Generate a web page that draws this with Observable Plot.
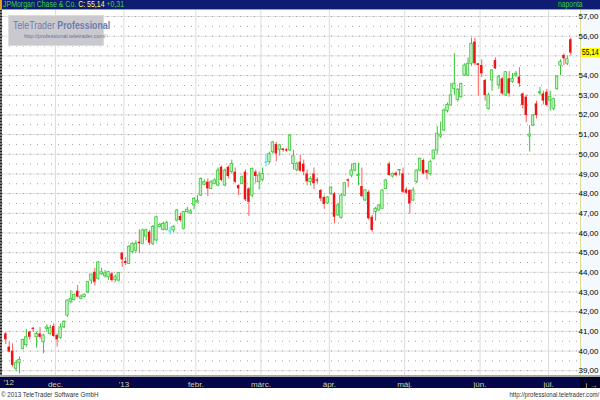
<!DOCTYPE html>
<html><head><meta charset="utf-8">
<script src="https://cdn.jsdelivr.net/npm/d3@7"></script>
<script src="https://cdn.jsdelivr.net/npm/@observablehq/plot@0.6"></script>
<style>
body{margin:0;background:#fff;}
#wrap{position:relative;width:600px;height:400px;overflow:hidden;font-family:"Liberation Sans",Arial,sans-serif;}
#topbar{position:absolute;left:0;top:0;width:598px;height:9px;background:#0e1c72;border-left:2px solid #e0a020;border-bottom:1px solid #a0a0a8;}
#topbar .s{position:absolute;top:0;font-size:8.5px;line-height:9px;white-space:nowrap;display:inline-block;transform-origin:left center;}
#rpanel{position:absolute;left:580px;top:10px;width:20px;height:365px;background:#f3f9fc;border-left:1px solid #e2dc9a;}
#leftedge{position:absolute;left:0;top:10px;width:2px;height:365px;background:repeating-linear-gradient(to bottom,#222 0 1px,#777 1px 3px);}
#botline{position:absolute;left:0;top:375px;width:600px;height:2px;background:#a8a8a8;}
#botbar{position:absolute;left:0;top:377px;width:600px;height:11px;background:#06064a;}
#botbar2{position:absolute;left:580px;top:377px;width:20px;height:11px;background:#000028;}
#chart{position:absolute;left:0;top:10px;}
#logo{position:absolute;left:8px;top:15px;width:94px;height:29px;background:#c9c9ce;border:1px solid #dcdce0;}
#logo .t1{position:absolute;left:4px;top:3px;font-size:10.5px;color:#6c7cae;white-space:nowrap;transform:scaleX(0.84);transform-origin:left center;}
#logo .t1 b{font-weight:bold;}
#logo .t2{position:absolute;left:15px;top:17px;font-size:6px;color:#6474a4;white-space:nowrap;transform:scaleX(0.92);transform-origin:left center;}
.cap{position:absolute;top:390px;font-size:8px;line-height:9px;color:#333;white-space:nowrap;}
#lastlbl{position:absolute;left:581px;width:19px;height:9px;background:#ffff00;overflow:hidden;}
#lastlbl span{position:absolute;left:1px;top:0;font-size:8.5px;line-height:9px;color:#000;white-space:nowrap;transform:scaleX(0.78);transform-origin:left center;}
</style>
</head><body>
<div id="wrap">
  <div id="rpanel"></div>
  <div id="botline"></div>
  <div id="botbar"></div>
  <div id="botbar2"></div>
  <div id="chart"></div>
  <div id="leftedge"></div>
  <div id="topbar">
    <span class="s" style="left:1px;transform:scaleX(0.82);"><span style="color:#3cd23c;">JPMorgan Chase &amp; Co.</span> <span style="color:#ffff40;">C: 55,14</span> <span style="color:#3cd23c;">+0,31</span></span>
    <span class="s" style="left:556px;color:#3cd23c;transform:scaleX(0.8);">naponta</span>
  </div>
  <div id="logo"><div class="t1">TeleTrader <b>Professional</b></div><div class="t2">http://professional.teletrader.com/</div></div>
  <div class="cap" style="left:1px;transform:scaleX(0.78);transform-origin:left center;">© 2013 TeleTrader Software GmbH</div>
  <div class="cap" style="right:1px;transform:scaleX(0.76);transform-origin:right center;">http://professional.teletrader.com/</div>
</div>
<script>
// Daily OHLC, JPMorgan Chase & Co., 9 Nov 2012 – 10 Jul 2013
const open = [
40.87,40.20,39.99,39.10,39.40,40.10,40.30,40.96,41.16,40.70,40.87,40.45,41.13,40.87,41.25,
40.79,40.67,41.20,41.80,42.50,42.60,43.04,42.66,42.75,42.99,43.58,44.00,43.67,43.90,43.80,43.75,43.92,43.60,43.58,44.97,
44.55,44.43,45.03,45.10,45.53,45.45,45.82,46.04,45.45,45.62,46.30,46.16,46.16,46.10,46.13,46.63,46.84,46.21,47.06,46.99,47.40,
47.55,47.90,48.45,48.58,48.24,48.50,48.41,49.34,48.41,49.34,49.09,49.09,48.41,48.50,49.09,48.24,47.90,49.09,48.58,
48.70,49.60,49.60,50.10,50.50,50.23,50.27,50.23,50.19,49.50,49.20,49.60,49.50,49.00,48.58,49.00,48.70,48.16,47.80,47.50,
48.00,47.99,46.89,46.77,47.90,48.70,48.92,49.17,48.90,48.36,47.65,48.07,46.80,47.06,47.14,47.23,48.24,49.50,48.87,49.04,49.17,49.00,
48.19,48.16,47.65,48.58,49.17,49.68,49.17,49.00,49.77,50.19,50.90,51.21,52.20,52.48,53.32,52.76,52.90,54.00,54.00,54.60,55.70,54.60,
54.51,53.75,52.30,53.75,54.76,53.50,53.83,52.99,53.83,53.67,54.00,53.92,53.07,52.90,50.90,51.46,52.56,53.10,53.07,53.15,
52.73,52.30,53.32,54.50,55.02,54.60,55.82];
const high = [
40.96,40.45,40.37,39.50,39.70,40.60,41.10,41.00,41.20,40.95,41.20,40.85,41.33,41.30,41.38,
40.87,41.38,41.55,42.60,43.07,42.90,43.33,42.85,42.90,43.55,43.90,44.20,44.55,44.20,44.10,44.05,44.00,43.85,44.00,45.00,
44.75,45.36,45.50,45.60,46.16,46.20,46.20,46.13,46.38,46.85,46.50,46.55,46.60,46.30,46.37,47.20,47.00,47.10,47.30,47.20,47.80,
47.90,48.80,48.70,48.75,48.65,48.75,49.30,49.40,49.25,49.40,49.70,49.30,48.45,48.90,49.20,48.30,49.30,49.20,49.10,
49.30,50.00,50.10,50.65,50.60,50.50,50.30,50.30,51.00,50.20,49.60,49.95,49.70,49.20,48.85,49.30,48.80,48.20,47.90,47.85,
48.35,48.05,47.50,48.00,48.55,48.75,49.50,49.55,49.55,49.30,48.20,48.15,46.90,47.30,47.45,48.20,48.70,49.60,49.05,49.10,49.20,49.30,
48.30,48.20,48.30,49.20,49.80,49.75,49.20,49.70,50.20,51.40,51.63,52.30,52.60,53.60,55.10,53.35,53.60,54.60,54.90,55.90,55.90,54.60,
54.80,53.80,53.10,54.30,54.90,54.00,53.90,54.20,54.20,54.10,54.20,54.40,53.10,53.00,51.46,52.00,52.70,53.40,53.20,53.30,
53.20,52.85,54.00,54.80,55.10,55.00,55.90];
const low = [
40.33,39.90,39.18,38.98,38.84,40.05,40.20,40.55,40.96,40.15,40.60,39.86,40.96,40.80,40.70,
40.20,40.60,41.15,41.72,42.40,42.55,42.70,42.60,42.70,42.90,43.40,43.30,43.60,43.85,43.70,43.60,43.50,43.50,43.50,44.26,
44.35,44.40,44.95,45.00,44.95,45.40,45.60,45.36,45.36,45.55,46.25,46.10,46.10,45.90,46.00,46.55,46.55,46.15,47.00,46.95,47.18,
47.50,47.85,48.40,47.85,48.20,48.45,48.35,48.60,48.35,48.75,49.00,48.50,47.90,48.45,47.60,46.84,47.80,48.50,48.20,
48.60,49.35,49.50,50.00,49.60,49.90,50.10,50.10,50.15,49.20,49.10,49.10,48.90,48.40,48.40,48.20,48.50,47.60,47.20,47.45,
47.90,46.46,46.85,46.70,47.85,48.30,48.80,49.10,48.40,47.80,47.60,46.65,46.04,46.60,47.10,47.20,48.20,48.90,48.80,48.85,48.90,48.00,
47.95,46.97,47.60,48.50,49.10,48.95,48.70,48.90,49.70,50.00,50.80,51.15,52.10,52.45,53.00,52.65,52.85,53.95,53.95,54.50,54.50,52.97,
53.90,52.70,52.25,53.20,54.30,53.30,53.00,52.95,52.90,53.60,53.90,53.40,52.30,51.60,50.11,51.40,51.80,53.00,52.50,52.40,
52.20,52.20,53.25,54.00,54.50,54.50,55.00];
const close = [
40.57,39.95,39.27,39.38,39.55,40.57,40.70,40.70,41.10,40.87,40.70,40.79,41.20,41.16,40.74,
40.57,41.20,41.47,42.57,42.65,42.85,42.74,42.77,42.86,43.50,43.89,43.50,44.50,44.00,43.95,44.01,43.58,43.75,43.96,44.63,
44.45,45.30,45.45,45.45,45.45,46.13,46.13,45.48,46.30,46.80,46.40,46.46,46.50,46.10,46.30,47.14,46.63,47.06,47.18,47.10,47.73,
47.64,48.75,48.58,48.24,48.58,48.67,49.17,48.67,49.17,48.87,49.51,48.58,48.24,48.83,47.68,47.56,49.26,48.87,48.92,
49.00,49.60,50.02,50.60,50.02,50.45,50.19,50.16,50.95,49.90,49.50,49.14,49.10,48.60,48.75,48.50,48.63,47.73,47.45,47.80,
48.30,46.80,47.40,47.90,48.53,48.63,49.17,49.50,48.95,47.85,48.16,46.72,46.13,47.23,47.40,48.16,48.67,48.92,49.00,48.92,49.20,48.07,
48.02,47.48,48.16,49.17,49.77,49.00,49.04,49.60,50.19,51.04,51.00,52.22,52.50,52.99,53.58,53.28,53.58,54.51,54.60,55.61,54.60,54.51,
54.09,52.99,52.99,54.26,54.34,53.92,53.07,54.17,53.07,53.83,54.09,53.58,52.48,51.97,51.00,51.97,51.97,53.15,52.70,52.48,
52.90,52.80,53.92,54.68,54.85,54.83,55.14];

// first trading day of each month (index) and its label
const monthStart = [15, 35, 56, 75, 95, 117, 139, 159];
const monthLabel = ["dec.", "'13", "febr.", "márc.", "ápr.", "máj.", "jún.", "júl."];
const yearStartLabel = ["'12"];
const yTicks = d3.range(39, 58);
const lastClose = close[close.length - 1];

const candles = open.map((o, i) => ({i, o, h: high[i], l: low[i], c: close[i]}));
const up = candles.filter(d => d.c > d.o);
const down = candles.filter(d => d.c < d.o);
const flat = candles.filter(d => d.c === d.o);
const tickPos = monthStart.map(m => m - 0.5);
const labelOf = new Map(tickPos.map((p, k) => [p, monthLabel[k]]));
const half = 0.36;
const khaki = "#d2d2a0";
// the price label sitting under the last-close marker is hidden, as in the reference
const yLabelTicks = yTicks.filter(t => Math.abs(t - lastClose) > 0.5);

const chart = Plot.plot({
  width: 600,
  height: 380,
  marginLeft: 2,
  marginRight: 20,
  marginTop: 0,
  marginBottom: 15,
  style: {background: "transparent", overflow: "visible", fontFamily: '"Liberation Sans",Arial,sans-serif'},
  x: {domain: [-0.96, 167.84], axis: null},
  y: {domain: [38.758, 57.305], axis: null},
  marks: [
    Plot.ruleY(yTicks, {stroke: "#e6dfe0", strokeWidth: 1}),
    Plot.ruleY(d3.range(39, 57.5, 0.5), {stroke: "#a0a0a0", strokeWidth: 1, strokeDasharray: "1,6"}),
    Plot.ruleX(tickPos, {stroke: "#dcdcdc", strokeWidth: 1}),
    Plot.ruleX(up, {x: "i", y1: "l", y2: "h", stroke: "#33c433", strokeWidth: 1}),
    Plot.ruleX(down, {x: "i", y1: "l", y2: "h", stroke: "#ff5a5a", strokeWidth: 1}),
    Plot.ruleX(flat, {x: "i", y1: "l", y2: "h", stroke: "#44dcf0", strokeWidth: 1}),
    Plot.rect(up, {x1: d => d.i - half, x2: d => d.i + half, y1: "o", y2: "c", fill: "#c6f2c6", stroke: "#3cc83c", strokeWidth: 0.8}),
    Plot.rect(down, {x1: d => d.i - half, x2: d => d.i + half, y1: "o", y2: "c", fill: "#ee1414"}),
    Plot.ruleY(flat, {y: "c", x1: d => d.i - half, x2: d => d.i + half, stroke: "#44dcf0", strokeWidth: 1.2}),
    Plot.axisY({anchor: "right", ticks: yLabelTicks, tickFormat: d => d.toFixed(2).replace(".", ","), tickSize: 0, tickPadding: 0, dx: 18, textAnchor: "end", fontSize: 8, fill: "#000", ariaLabel: "yaxis"}),
    Plot.axisX({ticks: tickPos, tickFormat: d => labelOf.get(d), tickSize: 0, tickPadding: 6, fontSize: 8, fill: khaki}),
    Plot.text(yearStartLabel, {frameAnchor: "bottom-left", dy: 9, dx: 1, textAnchor: "start", fontSize: 8, fill: khaki})
  ]
});
// condense the right-hand price labels so they fit the narrow axis panel, as in the reference
d3.select(chart).selectAll('g[aria-label="yaxis"] text')
  .attr("textLength", 16.5).attr("lengthAdjust", "spacingAndGlyphs");
document.getElementById("chart").appendChild(chart);

const yPos = chart.scale("y").apply(lastClose);
const lbl = document.createElement("div");
lbl.id = "lastlbl";
lbl.style.top = (10 + yPos - 4.5) + "px";
const sp = document.createElement("span");
sp.textContent = lastClose.toFixed(2).replace(".", ",");
lbl.appendChild(sp);
document.getElementById("wrap").appendChild(lbl);
</script>
</body></html>
